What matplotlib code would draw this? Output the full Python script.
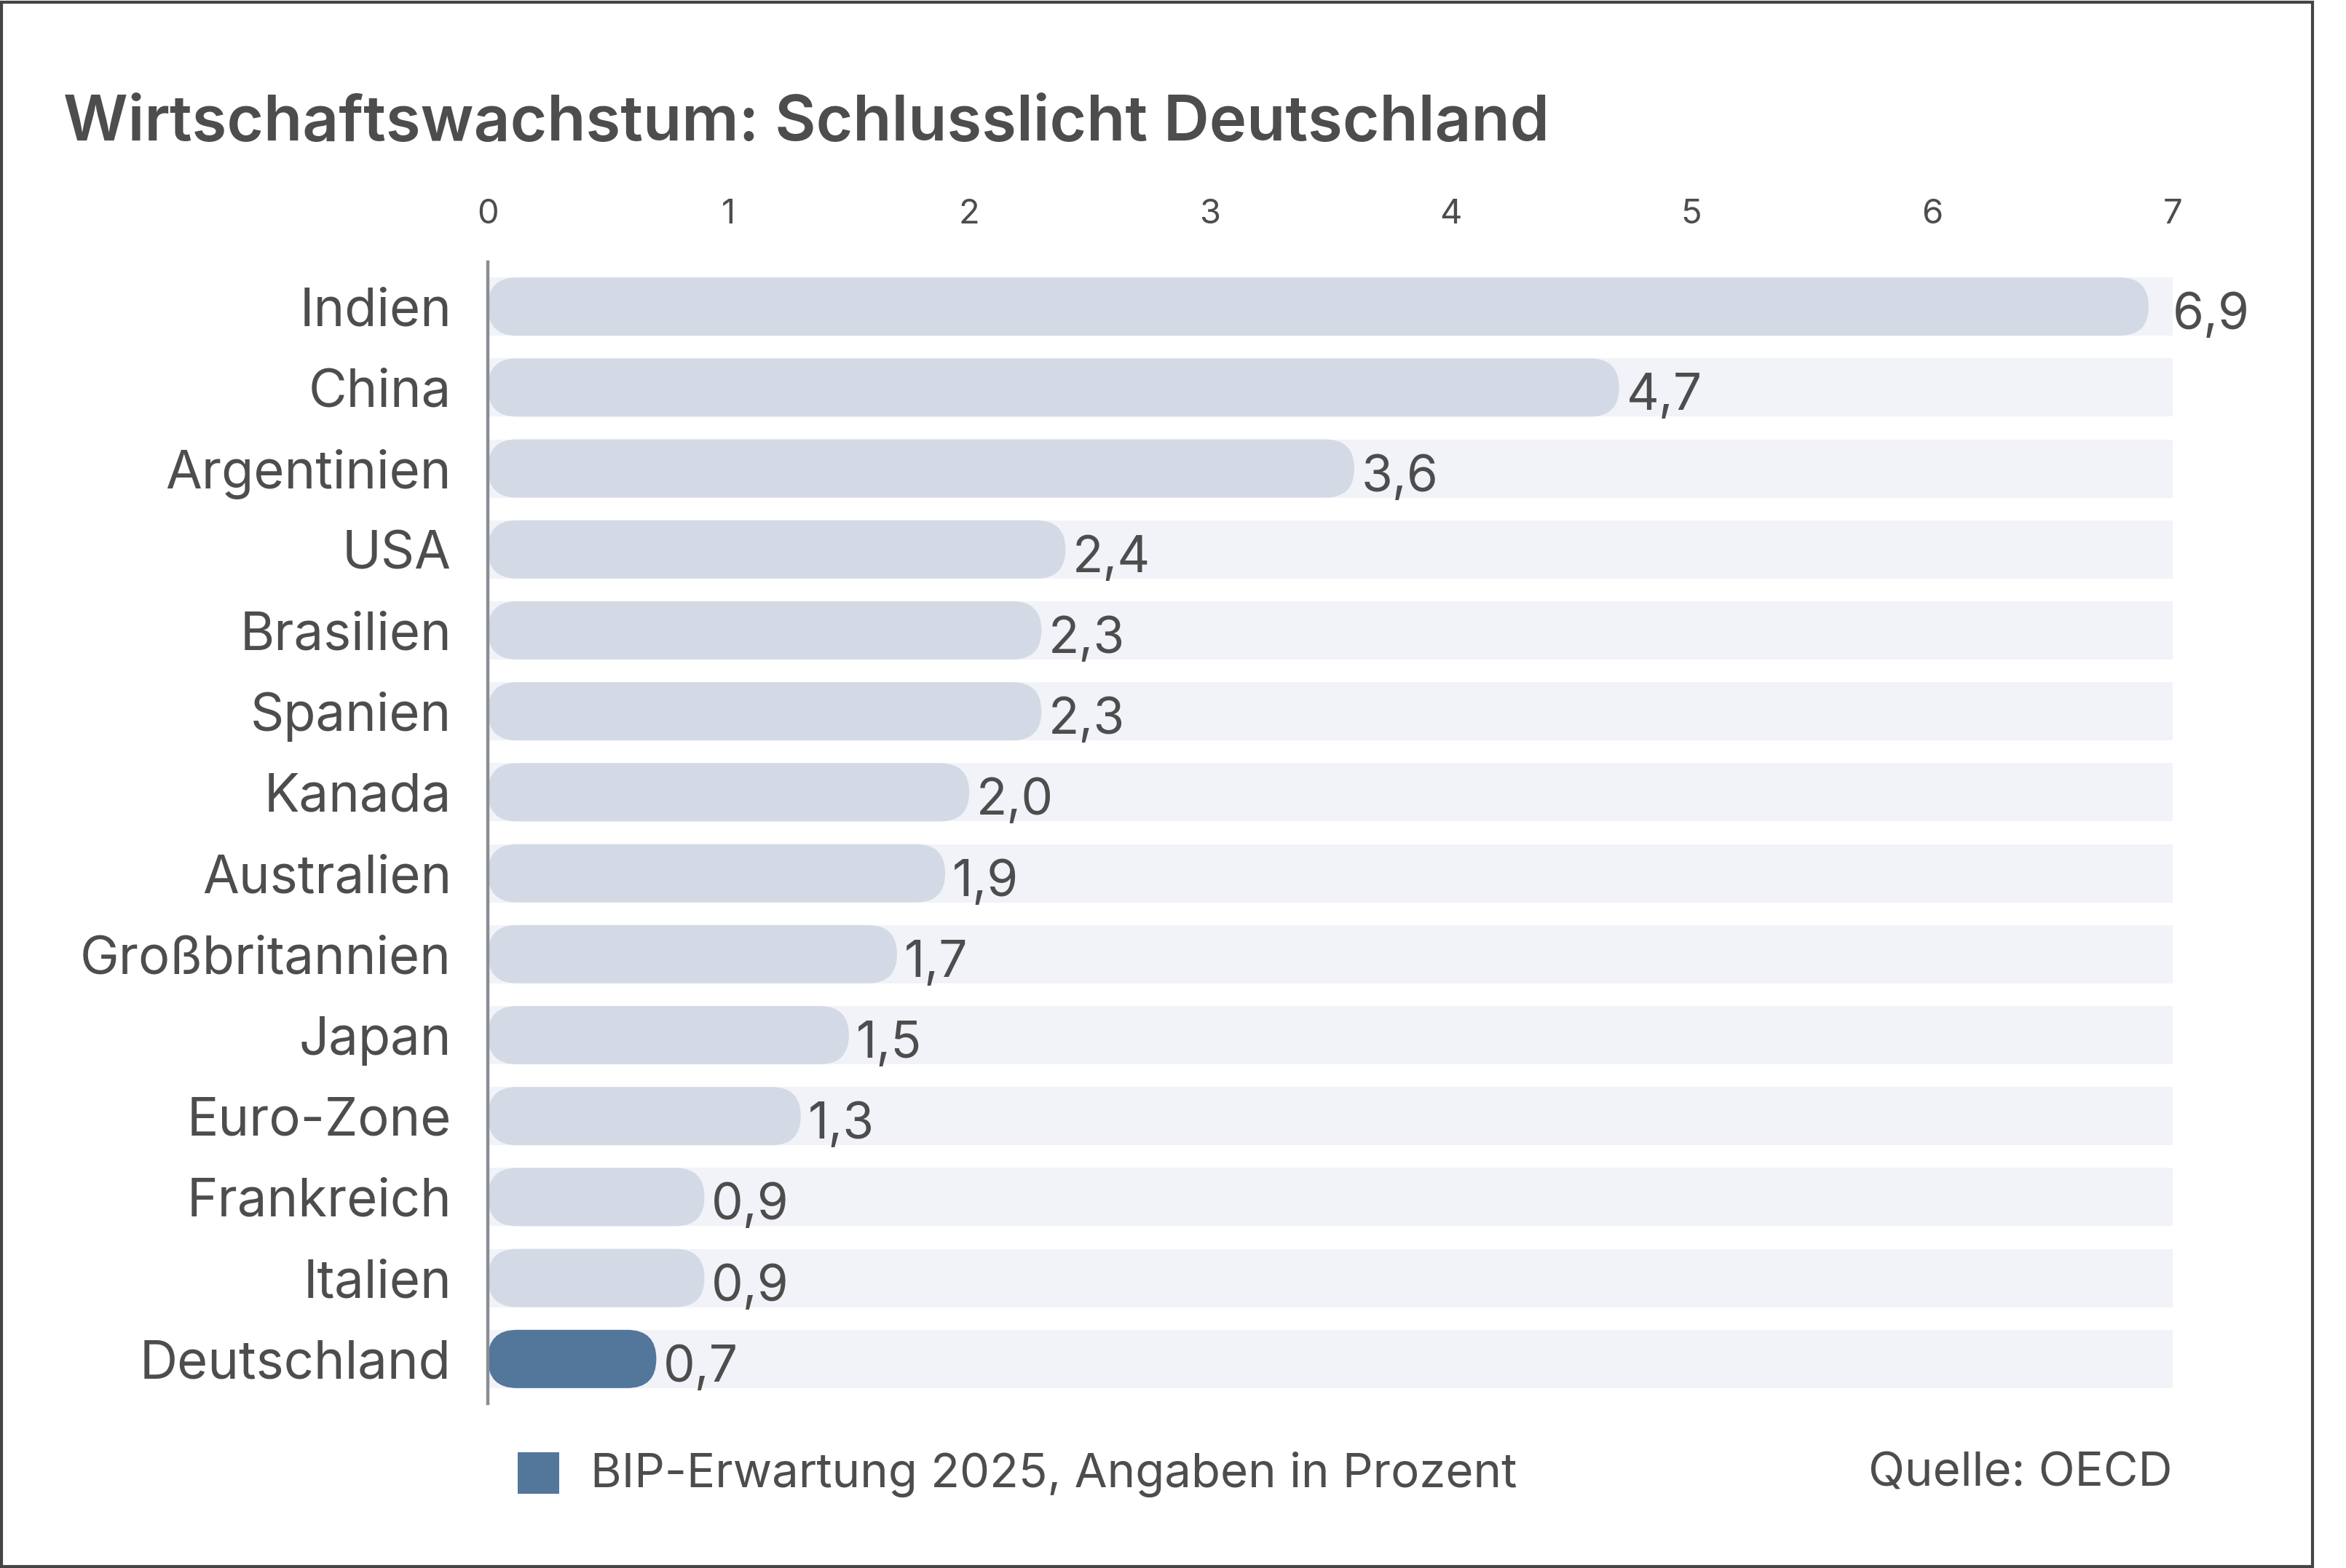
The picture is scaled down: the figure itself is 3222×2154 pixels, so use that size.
import matplotlib
matplotlib.use("Agg")
import matplotlib.pyplot as plt
from matplotlib.patches import FancyBboxPatch, Rectangle

# ---- data ----
countries = ["Indien", "China", "Argentinien", "USA", "Brasilien", "Spanien", "Kanada",
             "Australien", "Großbritannien", "Japan", "Euro-Zone", "Frankreich", "Italien",
             "Deutschland"]
values = [6.9, 4.7, 3.6, 2.4, 2.3, 2.3, 2.0, 1.9, 1.7, 1.5, 1.3, 0.9, 0.9, 0.7]
highlight = ["Deutschland"]
xticks = [0, 1, 2, 3, 4, 5, 6, 7]
title = "Wirtschaftswachstum: Schlusslicht Deutschland"
legend_label = "BIP-Erwartung 2025, Angaben in Prozent"
source = "Quelle: OECD"

# ---- style ----
TXT = "#4d4d4d"
TRACK = "#f1f3f8"
BAR = "#d3dae5"
HIGH = "#53769b"
FONT = ["Inter", "DejaVu Sans"]
plt.rcParams["font.family"] = FONT

W, H, DPI = 3222, 2154, 200
fig = plt.figure(figsize=(W / DPI, H / DPI), dpi=DPI)

ax_l, ax_r = 670 / W, 2984 / W
ax_t, ax_b = 1 - 360 / H, 1 - 1928 / H
ax = fig.add_axes([ax_l, ax_b, ax_r - ax_l, ax_t - ax_b])

xmax = 7.0
ylo, yhi = 13.55, -0.55
ax.set_xlim(0, xmax)
ax.set_ylim(ylo, yhi)

bh = 0.72
ypos = list(range(len(countries)))

# background tracks
ax.barh(ypos, [xmax] * len(ypos), height=bh, color=TRACK, zorder=1)

# rounded bars
ax_w_px = (ax_r - ax_l) * W
ax_h_px = (ax_t - ax_b) * H
px_x = ax_w_px / xmax
px_y = ax_h_px / abs(ylo - yhi)
aspect = px_x / px_y
r_px = bh * px_y / 2
r = r_px / px_x
for y, v, c in zip(ypos, values, countries):
    col = HIGH if c in highlight else BAR
    p = FancyBboxPatch((0, y - bh / 2), v, bh,
                       boxstyle=f"round,pad=0,rounding_size={r}",
                       mutation_aspect=aspect, fc=col, ec="none", zorder=2)
    ax.add_patch(p)
    lbl = f"{v:.1f}".replace(".", ",")
    if v > 6.5:
        ax.annotate(lbl, (xmax, y), xytext=(0, -4.5), textcoords="offset points",
                    ha="left", va="center", fontsize=25, color=TXT, zorder=3)
    else:
        ax.annotate(lbl, (v, y), xytext=(3.5, -4.5), textcoords="offset points",
                    ha="left", va="center", fontsize=25, color=TXT, zorder=3)

# axes styling
for s in ["top", "right", "bottom"]:
    ax.spines[s].set_visible(False)
ax.spines["left"].set_color("#8a8d93")
ax.spines["left"].set_linewidth(1.6)
ax.spines["left"].set_zorder(4)
ax.xaxis.tick_top()
ax.set_xticks(xticks)
ax.set_xticklabels([str(t) for t in xticks])
ax.tick_params(axis="x", length=0, pad=15.5, labelsize=17, labelcolor=TXT)
ax.set_yticks(ypos)
ax.set_yticklabels(countries)
ax.tick_params(axis="y", length=0, pad=18, labelsize=26, labelcolor=TXT)
for t in ax.get_yticklabels():
    t.set_y(t.get_position()[1])
ax.set_facecolor("none")

# title
fig.text(87 / W, 1 - 193 / H, title, ha="left", va="baseline",
         fontsize=31.3, fontweight="semibold", color=TXT)

# legend
fig.patches.append(Rectangle((711 / W, 1 - 2052 / H), 57 / W, 57 / H,
                             transform=fig.transFigure, fc=HIGH, ec="none"))
fig.text(811 / W, 1 - 2025 / H, legend_label, ha="left", va="center",
         fontsize=23.5, color=TXT)
fig.text(2984 / W, 1 - 2025 / H, source, ha="right", va="center",
         fontsize=23.5, color=TXT)

# frame
fig.patches.append(Rectangle((2 / W, 2 / H), 3174 / W, 2149 / H,
                             transform=fig.transFigure, fc="none",
                             ec="#444444", lw=1.5))

fig.savefig("out.png", dpi=DPI, facecolor="white")
